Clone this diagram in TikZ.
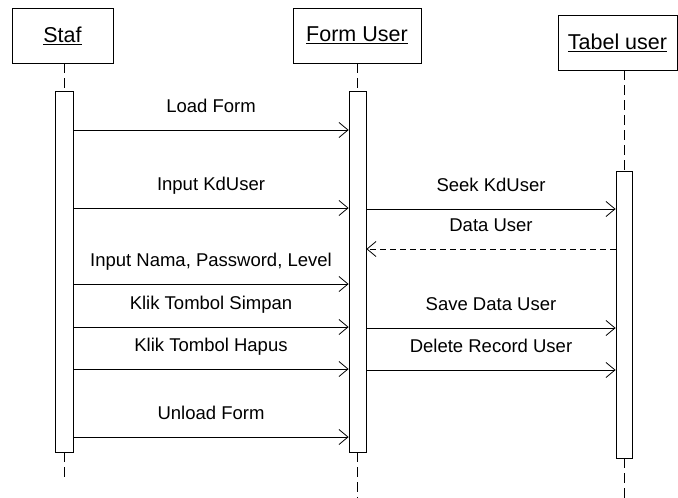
\documentclass[tikz,border=0pt]{standalone}
\usepackage{fontspec}
\setmainfont{Liberation Sans}
\usetikzlibrary{arrows.meta}

\begin{document}
\begin{tikzpicture}[x=1pt,y=-1pt,
  box/.style={draw,line width=0.8pt,minimum height=55pt,inner sep=0pt,font=\fontsize{21.5}{24}\selectfont},
  bar/.style={draw,line width=0.8pt,inner sep=0pt},
  life/.style={line width=0.8pt,dash pattern=on 10pt off 5pt},
  msg/.style={line width=0.8pt,-{Straight Barb[length=9pt,width=15pt]}},
  ret/.style={msg,dash pattern=on 6pt off 4pt},
  lbl/.style={anchor=base,yshift=18pt,inner sep=0pt,font=\fontsize{18.5}{20}\selectfont}]
\useasboundingbox (0,0) rectangle (678,498);
\node[box,minimum width=101pt] (staf) at (62.5,35.5) {\underline{Staf}};
\node[box,minimum width=128pt] (form) at (357,35.5) {\underline{Form User}};
\node[box,minimum width=119pt] (tabel) at (617.5,42.5) {\underline{Tabel user}};
\node[bar,minimum width=18pt,minimum height=361pt] (barS) at (64,271.5) {};
\node[bar,minimum width=17pt,minimum height=361pt] (barF) at (357.5,271.5) {};
\node[bar,minimum width=16pt,minimum height=287pt] (barT) at (624,314.5) {};
\coordinate (endS) at (64,480);
\coordinate (endF) at (357.5,498);
\coordinate (endT) at (624,498);
\draw[life](barS.north |- staf.south)--(barS.north);
\draw[life](barF.north |- form.south)--(barF.north);
\draw[life](barT.north |- tabel.south)--(barT.north);
\draw[life](barS.south)--(endS);
\draw[life](barF.south)--(endF);
\draw[life](barT.south)--(endT);
\draw[msg](barS.east |- 0,130)--node[lbl]{Load Form}(barF.west |- 0,130);
\draw[msg](barS.east |- 0,208)--node[lbl]{Input KdUser}(barF.west |- 0,208);
\draw[msg](barF.east |- 0,209)--node[lbl]{Seek KdUser}(barT.west |- 0,209);
\draw[ret](barT.west |- 0,249)--node[lbl]{Data User}(barF.east |- 0,249);
\draw[msg](barS.east |- 0,284)--node[lbl]{Input Nama, Password, Level}(barF.west |- 0,284);
\draw[msg](barS.east |- 0,327)--node[lbl]{Klik Tombol Simpan}(barF.west |- 0,327);
\draw[msg](barF.east |- 0,328)--node[lbl]{Save Data User}(barT.west |- 0,328);
\draw[msg](barS.east |- 0,369)--node[lbl]{Klik Tombol Hapus}(barF.west |- 0,369);
\draw[msg](barF.east |- 0,370)--node[lbl]{Delete Record User}(barT.west |- 0,370);
\draw[msg](barS.east |- 0,437)--node[lbl]{Unload Form}(barF.west |- 0,437);
\end{tikzpicture}
\end{document}
